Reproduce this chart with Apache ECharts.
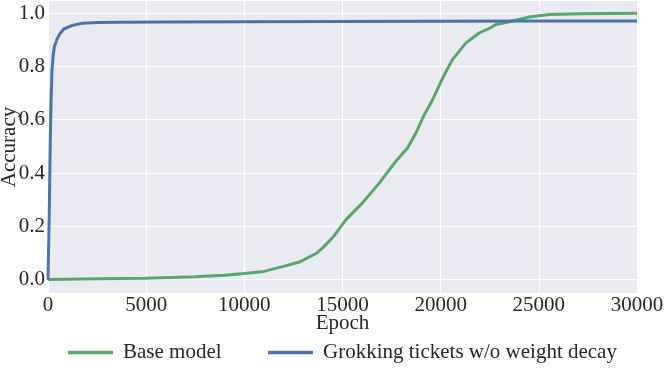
<!DOCTYPE html>
<html>
<head>
<meta charset="utf-8">
<script src="https://cdn.jsdelivr.net/npm/echarts@6/dist/echarts.min.js"></script>
<style>html,body{margin:0;padding:0;background:#fff}#c{width:664px;height:372px}</style>
</head>
<body>
<div id="c"></div>
<script>
var seriesNames = ["Base model", "Grokking tickets w/o weight decay"];
var baseEpochs = [0, 2500, 5000, 7500, 9000, 10000, 11000, 12000, 12800, 13650, 14000, 14500, 15180, 16020, 16870, 17720, 18310, 18740, 19080, 19590, 20100, 20600, 21290, 21960, 22480, 22810, 23500, 24510, 25530, 27220, 30000];
var baseAcc = [0.001, 0.003, 0.005, 0.011, 0.017, 0.023, 0.031, 0.05, 0.066, 0.098, 0.12, 0.158, 0.225, 0.288, 0.362, 0.444, 0.494, 0.55, 0.606, 0.675, 0.756, 0.825, 0.888, 0.925, 0.942, 0.957, 0.967, 0.985, 0.994, 0.9975, 0.999];
var ticketEpochs = [0, 40, 75, 110, 150, 200, 260, 330, 450, 585, 800, 1180, 1770, 2500, 3640, 6000, 10000, 15000, 20000, 25000, 30000];
var ticketAcc = [0.0, 0.15, 0.3, 0.5, 0.65, 0.78, 0.84, 0.875, 0.9, 0.92, 0.94, 0.952, 0.962, 0.964, 0.965, 0.966, 0.967, 0.968, 0.969, 0.97, 0.97];
var xTicks = [0, 5000, 10000, 15000, 20000, 25000, 30000];

function pairs(xs, ys){ return xs.map(function(x,i){ return [x, ys[i]]; }); }
var FONT = 'Liberation Serif';
var TXT = '#262626';
var chart = echarts.init(document.getElementById('c'), null, {renderer:'canvas'});
chart.setOption({
  animation: false,
  grid: {left: 48, right: 27, top: 1, bottom: 79, show: true, backgroundColor: '#EAEAF2', borderWidth: 0,
         containLabel: false, outerBoundsMode: 'none'},
  xAxis: {
    type: 'value', min: xTicks[0], max: xTicks[xTicks.length-1], interval: 5000,
    name: 'Epoch', nameLocation: 'middle', nameGap: 20, nameMoveOverlap: false,
    nameTextStyle: {fontFamily: FONT, fontSize: 21, color: TXT},
    axisLine: {show: false}, axisTick: {show: false},
    axisLabel: {fontFamily: FONT, fontSize: 21, color: TXT, margin: 2,
      formatter: function(v){ return String(v); }},
    splitLine: {show: true, lineStyle: {color: '#ffffff', width: 1}}
  },
  yAxis: {
    type: 'value', min: -0.05, max: 1.045, splitNumber: 5,
    name: 'Accuracy', nameLocation: 'middle', nameGap: 28, nameMoveOverlap: false,
    nameTextStyle: {fontFamily: FONT, fontSize: 21, color: TXT},
    axisLine: {show: false}, axisTick: {show: false},
    axisLabel: {fontFamily: FONT, fontSize: 21, color: TXT, margin: 3, showMinLabel: false, showMaxLabel: false,
      formatter: function(v){ return v.toFixed(1); }},
    splitLine: {show: true, showMinLine: false, showMaxLine: false, lineStyle: {color: '#ffffff', width: 1}}
  },
  legend: [
    {data: [seriesNames[0]], left: 63, top: 337, icon: 'rect', itemWidth: 45, itemHeight: 3.5,
     textStyle: {fontFamily: FONT, fontSize: 21, color: TXT, padding: [0,0,0,5]}},
    {data: [seriesNames[1]], left: 263, top: 337, icon: 'rect', itemWidth: 45, itemHeight: 3.5,
     textStyle: {fontFamily: FONT, fontSize: 21, color: TXT, padding: [0,0,0,5]}}
  ],
  series: [
    {name: seriesNames[0], type: 'line', data: pairs(baseEpochs, baseAcc), showSymbol: false, symbol: 'none',
     lineStyle: {color: '#55A868', width: 3}, itemStyle: {color: '#55A868'}, z: 2},
    {name: seriesNames[1], type: 'line', data: pairs(ticketEpochs, ticketAcc), showSymbol: false, symbol: 'none',
     lineStyle: {color: '#4C72B0', width: 3}, itemStyle: {color: '#4C72B0'}, z: 3}
  ]
});
</script>
</body>
</html>
